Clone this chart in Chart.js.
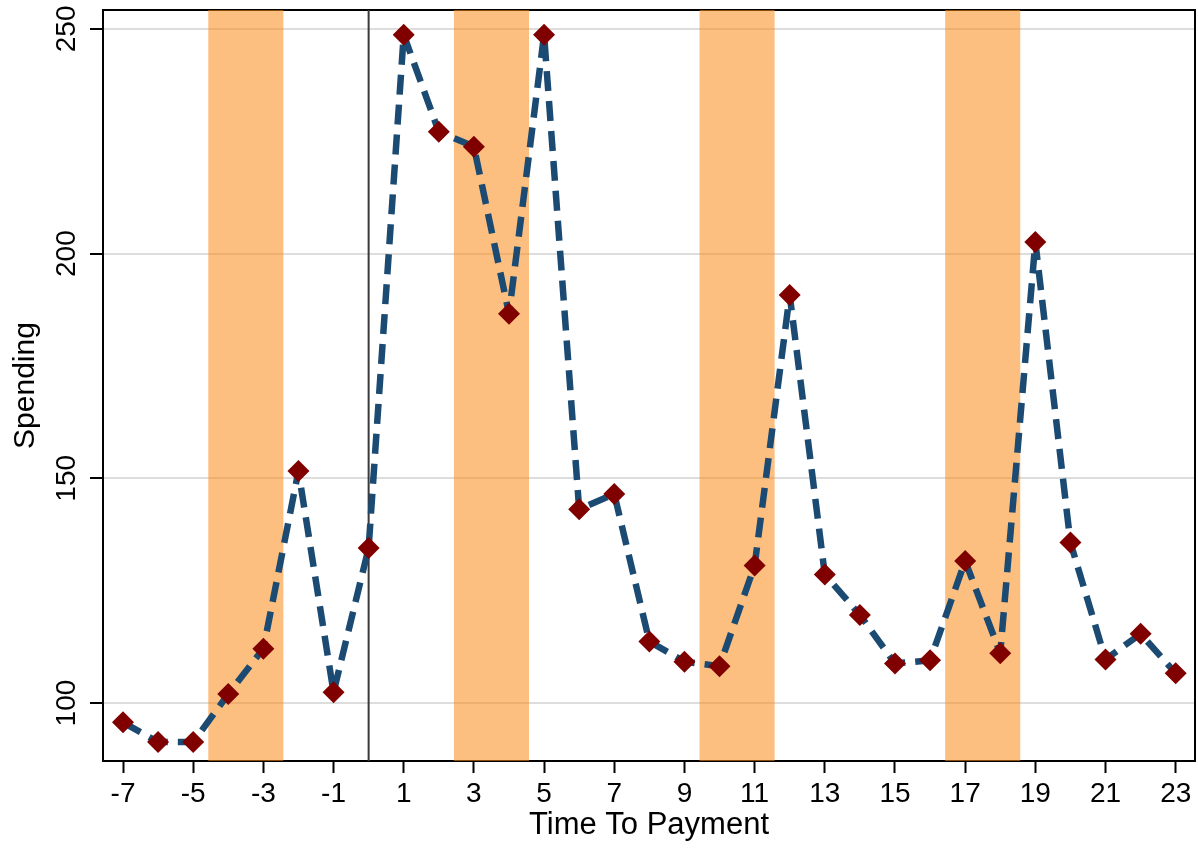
<!DOCTYPE html>
<html>
<head>
<meta charset="utf-8">
<title>Spending by time to payment</title>
<script src="https://cdn.jsdelivr.net/npm/chart.js@4.4.1/dist/chart.umd.min.js"></script>
<style>
    html, body { margin: 0; padding: 0; background: #fff; }
    #wrap { width: 1198px; height: 848px; }
</style>
</head>
<body>
<div id="wrap"><canvas id="chart" width="1198" height="848"></canvas></div>
<script>
// Data
const periods = [-7, -6, -5, -4, -3, -2, -1, 0, 1, 2, 3, 4, 5, 6, 7, 8, 9, 10, 11, 12, 13, 14, 15, 16, 17, 18, 19, 20, 21, 22, 23];
const spending = [95.7, 91.3, 91.3, 102, 112.1, 151.6, 102.4, 134.5, 248.7, 227.1, 223.8, 186.6, 248.7, 143.1, 146.5, 113.7, 109.2, 108.2, 130.6, 190.8, 128.6, 119.6, 108.8, 109.5, 131.6, 111.1, 202.6, 135.7, 109.7, 115.4, 106.6];

const xTicks = [-7, -5, -3, -1, 1, 3, 5, 7, 9, 11, 13, 15, 17, 19, 21, 23];
const yTicks = [100, 150, 200, 250];

// shaded windows (start / end on the time axis)
const bandStart = [-4.57, 2.43, 9.43, 16.43];
const bandEnd = [-2.43, 4.57, 11.57, 18.57];
const markerAt = 0;

const FONT = '"Liberation Sans", Arial, sans-serif';

// Bands, marker line and top/right frame go under the data line
const backdropPlugin = {
    id: 'backdrop',
    beforeDatasetsDraw(chart) {
        const { ctx, chartArea: a, scales: { x } } = chart;
        ctx.save();
        // top and right frame
        ctx.strokeStyle = '#000';
        ctx.lineWidth = 2;
        ctx.beginPath();
        ctx.moveTo(a.left, a.top);
        ctx.lineTo(a.right, a.top);
        ctx.lineTo(a.right, a.bottom);
        ctx.stroke();

        ctx.fillStyle = 'rgba(251, 139, 24, 0.55)';
        bandStart.forEach((s, i) => {
            const x0 = x.getPixelForValue(s);
            const x1 = x.getPixelForValue(bandEnd[i]);
            ctx.fillRect(x0, a.top, x1 - x0, a.bottom - a.top);
        });

        const mx = x.getPixelForValue(markerAt);
        ctx.strokeStyle = '#3a3a3a';
        ctx.lineWidth = 2;
        ctx.beginPath();
        ctx.moveTo(mx, a.top);
        ctx.lineTo(mx, a.bottom);
        ctx.stroke();
        ctx.restore();
    }
};

// Rotated y tick labels, as in the original
const yLabelPlugin = {
    id: 'yLabels',
    afterDraw(chart) {
        const { ctx, scales: { y } } = chart;
        ctx.save();
        ctx.fillStyle = '#000';
        ctx.font = '28px ' + FONT;
        ctx.textAlign = 'center';
        ctx.textBaseline = 'alphabetic';
        yTicks.forEach(v => {
            ctx.save();
            ctx.translate(75, y.getPixelForValue(v));
            ctx.rotate(-Math.PI / 2);
            ctx.fillText(String(v), 0, 0);
            ctx.restore();
        });
        ctx.restore();
    }
};

new Chart(document.getElementById('chart'), {
    type: 'line',
    data: {
        datasets: [{
            label: 'Spending',
            data: periods.map((p, i) => ({ x: p, y: spending[i] })),
            borderColor: '#1b4a72',
            borderWidth: 6.5,
            borderDash: [20, 10],
            borderJoinStyle: 'bevel',
            tension: 0,
            fill: false,
            clip: false,
            pointStyle: 'rectRot',
            pointRadius: 11,
            pointBackgroundColor: '#800000',
            pointBorderColor: '#800000',
            pointBorderWidth: 0
        }]
    },
    options: {
        responsive: false,
        animation: false,
        layout: {
            autoPadding: false,
            padding: { top: 10, right: 3, left: 0, bottom: 0 }
        },
        plugins: {
            legend: { display: false },
            tooltip: { enabled: false }
        },
        scales: {
            x: {
                type: 'linear',
                min: -7.57,
                max: 23.55,
                afterBuildTicks: scale => {
                    scale.ticks = xTicks.map(v => ({ value: v }));
                },
                afterFit: scale => {
                    scale.height = 87;
                    scale.paddingLeft = 0;
                    scale.paddingRight = 0;
                },
                grid: {
                    drawOnChartArea: false,
                    drawTicks: true,
                    tickLength: 12,
                    tickColor: '#000',
                    tickWidth: 2
                },
                border: { display: true, color: '#000', width: 2 },
                ticks: {
                    autoSkip: false,
                    maxRotation: 0,
                    padding: 4,
                    color: '#000',
                    font: { family: FONT, size: 28 },
                    callback: v => String(v)
                },
                title: {
                    display: true,
                    text: 'Time To Payment',
                    color: '#000',
                    font: { family: FONT, size: 31 },
                    padding: { top: 0, bottom: 4 }
                }
            },
            y: {
                type: 'linear',
                min: 87.1,
                max: 254.2,
                afterBuildTicks: scale => {
                    scale.ticks = yTicks.map(v => ({ value: v }));
                },
                afterFit: scale => {
                    scale.width = 103;
                    scale.paddingTop = 0;
                    scale.paddingBottom = 0;
                },
                grid: {
                    color: '#dddddd',
                    lineWidth: 2,
                    drawTicks: true,
                    tickLength: 13,
                    tickColor: '#000',
                    tickWidth: 2
                },
                border: { display: true, color: '#000', width: 2 },
                ticks: { display: false },
                title: {
                    display: true,
                    text: 'Spending',
                    color: '#000',
                    font: { family: FONT, size: 30 },
                    padding: { top: 8, bottom: 0 }
                }
            }
        }
    },
    plugins: [backdropPlugin, yLabelPlugin]
});
</script>
</body>
</html>
